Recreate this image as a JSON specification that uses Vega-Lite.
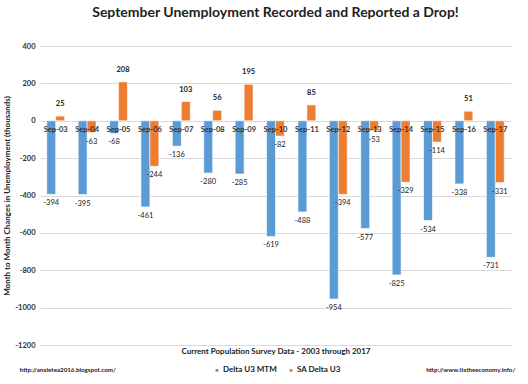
{
  "$schema": "https://vega.github.io/schema/vega-lite/v6.json",
  "autosize": {"type": "fit", "contains": "padding"},
  "width": 528,
  "height": 384,
  "padding": {"left": 3, "top": 6, "right": 14, "bottom": 3},
  "background": "white",
  "config": {"font": "Lato", "view": {"stroke": null}},
  "title": {"text": "September Unemployment Recorded and Reported a Drop!", "font": "Lato", "fontSize": 14, "fontWeight": "bold", "color": "#222222", "offset": 22, "anchor": "middle"},
  "datasets": {
    "bars": [
      {"month": "Sep-03", "series": "Delta U3 MTM", "value": -394},
      {"month": "Sep-03", "series": "SA Delta U3", "value": 25},
      {"month": "Sep-04", "series": "Delta U3 MTM", "value": -395},
      {"month": "Sep-04", "series": "SA Delta U3", "value": -63},
      {"month": "Sep-05", "series": "Delta U3 MTM", "value": -68},
      {"month": "Sep-05", "series": "SA Delta U3", "value": 208},
      {"month": "Sep-06", "series": "Delta U3 MTM", "value": -461},
      {"month": "Sep-06", "series": "SA Delta U3", "value": -244},
      {"month": "Sep-07", "series": "Delta U3 MTM", "value": -136},
      {"month": "Sep-07", "series": "SA Delta U3", "value": 103},
      {"month": "Sep-08", "series": "Delta U3 MTM", "value": -280},
      {"month": "Sep-08", "series": "SA Delta U3", "value": 56},
      {"month": "Sep-09", "series": "Delta U3 MTM", "value": -285},
      {"month": "Sep-09", "series": "SA Delta U3", "value": 195},
      {"month": "Sep-10", "series": "Delta U3 MTM", "value": -619},
      {"month": "Sep-10", "series": "SA Delta U3", "value": -82},
      {"month": "Sep-11", "series": "Delta U3 MTM", "value": -488},
      {"month": "Sep-11", "series": "SA Delta U3", "value": 85},
      {"month": "Sep-12", "series": "Delta U3 MTM", "value": -954},
      {"month": "Sep-12", "series": "SA Delta U3", "value": -394},
      {"month": "Sep-13", "series": "Delta U3 MTM", "value": -577},
      {"month": "Sep-13", "series": "SA Delta U3", "value": -53},
      {"month": "Sep-14", "series": "Delta U3 MTM", "value": -825},
      {"month": "Sep-14", "series": "SA Delta U3", "value": -329},
      {"month": "Sep-15", "series": "Delta U3 MTM", "value": -534},
      {"month": "Sep-15", "series": "SA Delta U3", "value": -114},
      {"month": "Sep-16", "series": "Delta U3 MTM", "value": -338},
      {"month": "Sep-16", "series": "SA Delta U3", "value": 51},
      {"month": "Sep-17", "series": "Delta U3 MTM", "value": -731},
      {"month": "Sep-17", "series": "SA Delta U3", "value": -331}
    ],
    "months": [
      {"month": "Sep-03", "value": 0}, {"month": "Sep-04", "value": 0}, {"month": "Sep-05", "value": 0}, {"month": "Sep-06", "value": 0}, {"month": "Sep-07", "value": 0},
      {"month": "Sep-08", "value": 0}, {"month": "Sep-09", "value": 0}, {"month": "Sep-10", "value": 0}, {"month": "Sep-11", "value": 0}, {"month": "Sep-12", "value": 0},
      {"month": "Sep-13", "value": 0}, {"month": "Sep-14", "value": 0}, {"month": "Sep-15", "value": 0}, {"month": "Sep-16", "value": 0}, {"month": "Sep-17", "value": 0}
    ],
    "footerLeft": [{"month": "Sep-03", "label": "http://anxietea2016.blogspot.com/", "value": -1333}],
    "footerRight": [{"month": "Sep-17", "label": "http://www.itstheeconomy.info/", "value": -1333}]
  },
  "encoding": {
    "x": {"field": "month", "type": "nominal", "sort": null,
          "scale": {"paddingInner": 0.43, "paddingOuter": 0.215},
          "axis": {"labels": false, "ticks": false, "domain": false, "title": "Current Population Survey Data - 2003 through 2017",
                   "titleFont": "Lato", "titleFontSize": 8, "titleFontWeight": "bold", "titleColor": "#222222", "titlePadding": 2}},
    "y": {"field": "value", "type": "quantitative",
          "scale": {"domain": [-1200, 400], "nice": false},
          "axis": {"values": [-1200, -1000, -800, -600, -400, -200, 0, 200, 400], "tickCount": 9, "ticks": false, "domain": false, "labelOverlap": false,
                   "labelExpr": "'' + datum.value",
                   "gridColor": "#d9d9d9", "gridWidth": 1, "labelFont": "Lato", "labelFontSize": 7.5, "labelFontWeight": "bold", "labelColor": "#333333", "labelPadding": 5,
                   "title": "Month to Month Changes in Unemployment (thousands)", "titleFont": "Lato", "titleFontSize": 8, "titleFontWeight": "bold", "titleColor": "#222222", "titlePadding": 3}}
  },
  "layer": [
    {
      "data": {"name": "bars"},
      "mark": {"type": "bar", "stroke": "white", "strokeWidth": 0.6},
      "encoding": {
        "xOffset": {"field": "series", "type": "nominal", "sort": ["Delta U3 MTM", "SA Delta U3"]},
        "color": {"field": "series", "type": "nominal", "sort": ["Delta U3 MTM", "SA Delta U3"],
                  "scale": {"domain": ["Delta U3 MTM", "SA Delta U3"], "range": ["#5B9BD5", "#ED7D31"]},
                  "legend": {"orient": "none", "legendX": 173, "legendY": 320, "direction": "horizontal", "title": null, "symbolType": "square", "symbolSize": 20,
                             "labelFont": "Lato", "labelFontSize": 8, "labelFontWeight": "bold", "labelColor": "#222222", "columnPadding": 8, "labelOffset": 2}}
      }
    },
    {
      "data": {"name": "bars"},
      "transform": [{"filter": "datum.value < 0"}],
      "mark": {"type": "text", "baseline": "middle", "dy": 9, "fontSize": 7.5, "font": "Lato", "color": "#222222"},
      "encoding": {
        "xOffset": {"field": "series", "type": "nominal", "sort": ["Delta U3 MTM", "SA Delta U3"]},
        "text": {"field": "value", "type": "nominal"}
      }
    },
    {
      "data": {"name": "bars"},
      "transform": [{"filter": "datum.value >= 0"}],
      "mark": {"type": "text", "baseline": "middle", "dy": -12, "fontSize": 7.5, "font": "Lato", "fontWeight": "bold", "color": "#222222"},
      "encoding": {
        "xOffset": {"field": "series", "type": "nominal", "sort": ["Delta U3 MTM", "SA Delta U3"]},
        "text": {"field": "value", "type": "nominal"}
      }
    },
    {
      "data": {"name": "months"},
      "mark": {"type": "text", "baseline": "middle", "dy": 9, "fontSize": 7.5, "font": "Lato", "fontWeight": "bold", "color": "#333333"},
      "encoding": {
        "text": {"field": "month", "type": "nominal"}
      }
    },
    {
      "data": {"name": "footerLeft"},
      "mark": {"type": "text", "baseline": "middle", "align": "left", "dx": -36, "fontSize": 6.2, "font": "Lato", "fontWeight": "bold", "color": "#222222"},
      "encoding": {
        "text": {"field": "label", "type": "nominal"}
      }
    },
    {
      "data": {"name": "footerRight"},
      "mark": {"type": "text", "baseline": "middle", "align": "right", "dx": 20, "fontSize": 6.2, "font": "Lato", "fontWeight": "bold", "color": "#222222"},
      "encoding": {
        "text": {"field": "label", "type": "nominal"}
      }
    }
  ]
}
